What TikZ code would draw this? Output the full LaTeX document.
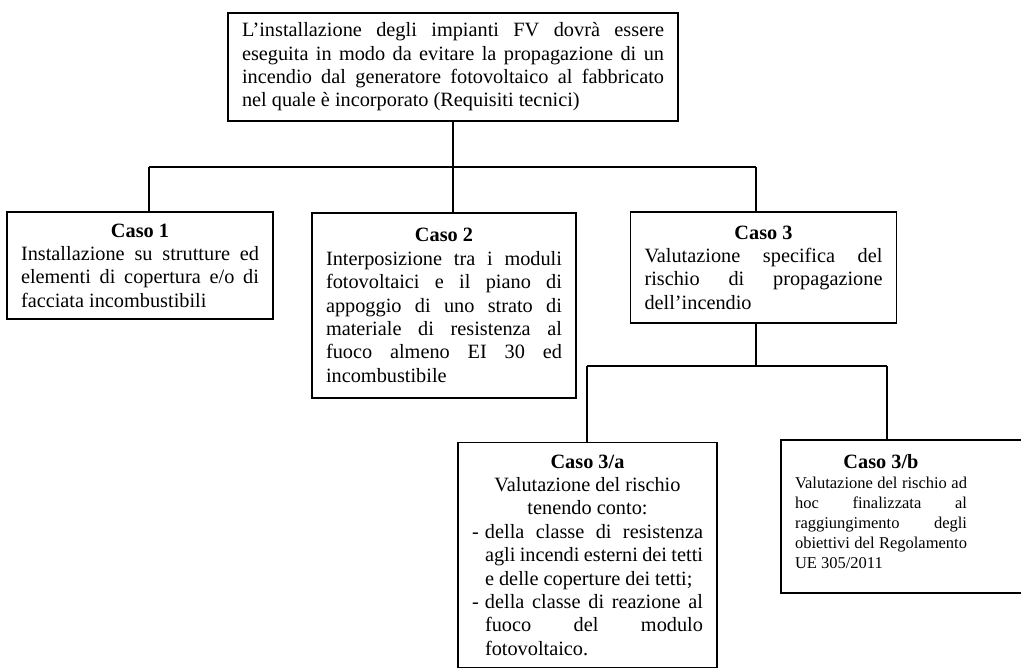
\documentclass[tikz,border=0pt]{standalone}
\usepackage{fontspec}
\setmainfont{Liberation Serif}
\setlength\parindent{0pt}
\begin{document}
\begin{tikzpicture}[x=1pt,y=1pt,
  box/.style={draw, line width=1.2pt, inner xsep=14pt, inner ysep=0pt, align=justify,
    font=\fontsize{20.3}{23.4}\selectfont},
  link/.style={line width=1.2pt}]
\useasboundingbox (0,0) rectangle (1021,671);
\clip (0,0) rectangle (1021,671);

\node[box, text width=422pt, minimum height=108pt] (top) at (453,604)
  {L’installazione degli impianti FV dovrà essere\linebreak
   eseguita in modo da evitare la propagazione di un\linebreak
   incendio dal generatore fotovoltaico al fabbricato\linebreak
   nel quale è incorporato (Requisiti tecnici)\par\vspace{12pt}};

\node[box, text width=238pt, minimum height=107pt] (c1) at (140,405.5)
  {{\centering\textbf{Caso 1}\par}
   Installazione su strutture ed\linebreak
   elementi di copertura e/o di\linebreak
   facciata incombustibili\par\vspace{-7pt}};

\node[box, text width=236pt, minimum height=185pt] (c2) at (444,365.5)
  {{\centering\textbf{Caso 2}\par}
   Interposizione tra i moduli\linebreak
   fotovoltaici e il piano di\linebreak
   appoggio di uno strato di\linebreak
   materiale di resistenza al\linebreak
   fuoco almeno EI 30 ed\linebreak
   incombustibile};

\node[box, text width=238pt, minimum height=111pt] (c3) at (763.5,403.5)
  {{\centering\textbf{Caso 3}\par}
   Valutazione specifica del\linebreak
   rischio di propagazione\linebreak
   dell’incendio};

\node[box, text width=231pt, inner ysep=12pt, anchor=north] (c3a) at (587.5,229)
  {{\centering\textbf{Caso 3/a}\\Valutazione del rischio\\tenendo conto:\par}
   \hangindent=13pt\hangafter=1\makebox[13pt][l]{-}della classe di resistenza\linebreak
   agli incendi esterni dei tetti\linebreak
   e delle coperture dei tetti;\par
   \hangindent=13pt\hangafter=1\makebox[13pt][l]{-}della classe di reazione al\linebreak
   fuoco del modulo\linebreak
   fotovoltaico.\par\vspace*{40pt}};

\node[box, text width=234pt, minimum height=153pt] (c3b) at (912,154.5)
  {\parbox{172pt}{\rightskip=0pt\leftskip=0pt\parfillskip=0pt plus 1fil
   {\centering\textbf{Caso 3/b}\par}
   \fontsize{16.5}{20}\selectfont
   Valutazione del rischio ad\linebreak
   hoc finalizzata al\linebreak
   raggiungimento degli\linebreak
   obiettivi del Regolamento\linebreak
   UE 305/2011\par\vspace{10pt}}\hfill\null};

\coordinate (b1) at (149,504);
\coordinate (b3) at (756,504);
\coordinate (d1) at (587,305);
\coordinate (d2) at (887,305);

\draw[link] (top.south) -- (top.south |- b1);
\draw[link] (b1) -- (b3);
\draw[link] (b1) -- (b1 |- c1.north);
\draw[link] (top.south |- b1) -- (top.south |- c2.north);
\draw[link] (b3) -- (b3 |- c3.north);
\draw[link] (c3.south -| b3) -- (b3 |- d1);
\draw[link] (d1) -- (d2);
\draw[link] (d1) -- (d1 |- c3a.north);
\draw[link] (d2) -- (d2 |- c3b.north);
\end{tikzpicture}
\end{document}
